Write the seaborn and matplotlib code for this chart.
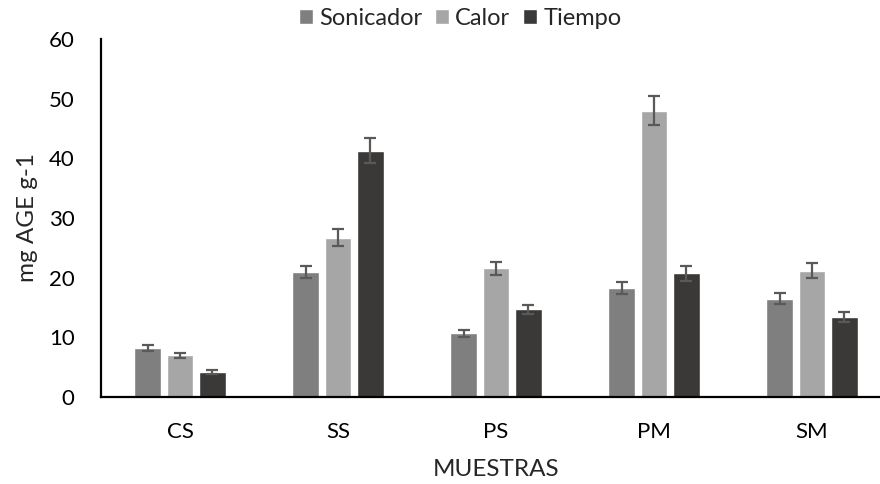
import matplotlib
matplotlib.use("Agg")
import matplotlib.pyplot as plt
import seaborn as sns
import pandas as pd

# Extraction yields per sample and method
muestras = ["CS", "SS", "PS", "PM", "SM"]
metodos = ["Sonicador", "Calor", "Tiempo"]
sonicador = [8.2, 21.0, 10.7, 18.2, 16.5]
calor = [7.0, 26.7, 21.6, 48.0, 21.2]
tiempo = [4.2, 41.3, 14.7, 20.7, 13.4]
err_sonicador = [0.5, 1.0, 0.6, 1.0, 0.9]
err_calor = [0.4, 1.4, 1.1, 2.4, 1.2]
err_tiempo = [0.4, 2.1, 0.75, 1.2, 0.8]

colores = ["#7f7f7f", "#a6a6a6", "#3b3838"]

df = pd.DataFrame({
    "Muestra": muestras * 3,
    "Metodo": [m for m in metodos for _ in muestras],
    "Valor": sonicador + calor + tiempo,
})
errores = [err_sonicador, err_calor, err_tiempo]

sns.set_theme(style="white")
plt.rcParams["font.family"] = ["Lato", "DejaVu Sans"]

fig = plt.figure(figsize=(8.8, 4.84), dpi=100)
ax = fig.add_axes([101 / 880, 87 / 484, 790 / 880, 358 / 484])

sns.barplot(data=df, x="Muestra", y="Valor", hue="Metodo", order=muestras,
            hue_order=metodos, palette=colores, width=0.61, gap=0.16,
            errorbar=None, saturation=1, ax=ax, legend=True)

for cont, errs in zip(ax.containers, errores):
    xs = [b.get_x() + b.get_width() / 2 for b in cont]
    ys = [b.get_height() for b in cont]
    ax.errorbar(xs, ys, yerr=errs, fmt="none", ecolor="#595959",
                elinewidth=1.6, capsize=4.5, capthick=1.6, zorder=5)

ax.set_ylim(0, 60)
ax.set_xlim(-0.5, 4.5)
ax.set_yticks(range(0, 61, 10))
ax.tick_params(axis="both", length=0, labelsize=16, colors="#000000")
ax.tick_params(axis="y", pad=19)
ax.tick_params(axis="x", pad=18)
for side in ["top", "right"]:
    ax.spines[side].set_visible(False)
for side in ["left", "bottom"]:
    ax.spines[side].set_color("#000000")
    ax.spines[side].set_linewidth(1.6)

ax.set_xlabel("MUESTRAS", fontsize=17.5, labelpad=12)
ax.set_ylabel("mg AGE g-1", fontsize=17.5, labelpad=8)

handles, labels = ax.get_legend_handles_labels()
ax.get_legend().remove()
fig.legend(handles, labels, loc="center", bbox_to_anchor=(0.523, 0.962),
           ncol=3, frameon=False, fontsize=17, handlelength=0.6,
           handleheight=0.6, handletextpad=0.25, columnspacing=0.55)

fig.savefig("out.png", dpi=100)
